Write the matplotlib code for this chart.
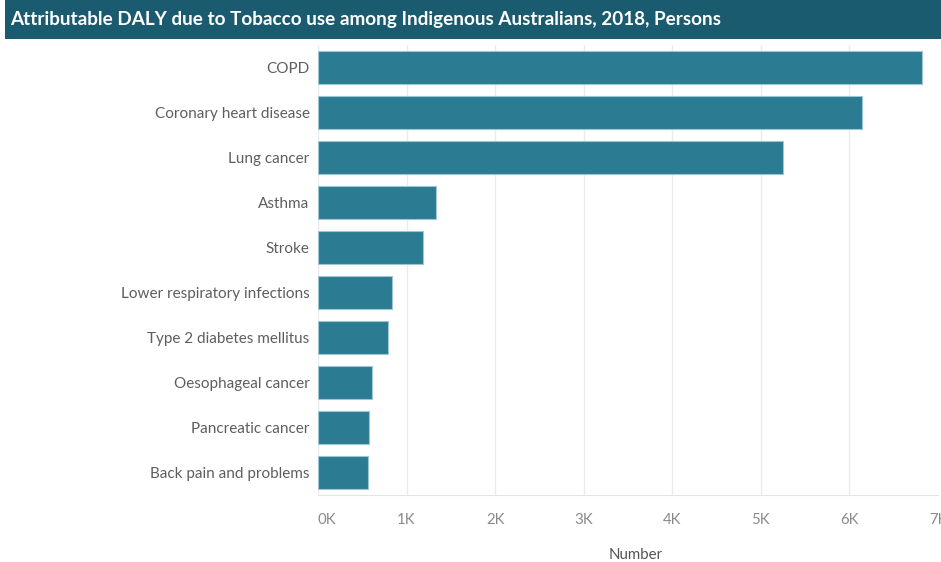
import matplotlib
matplotlib.use("Agg")
import matplotlib.pyplot as plt
from matplotlib.patches import Rectangle

# Attributable DALY by condition (persons)
conditions = [
    "COPD",
    "Coronary heart disease",
    "Lung cancer",
    "Asthma",
    "Stroke",
    "Lower respiratory infections",
    "Type 2 diabetes mellitus",
    "Oesophageal cancer",
    "Pancreatic cancer",
    "Back pain and problems",
]
daly = [6820, 6140, 5245, 1328, 1188, 830, 788, 607, 577, 566]

tick_values = [0, 1000, 2000, 3000, 4000, 5000, 6000, 7000]
tick_labels = ["0K", "1K", "2K", "3K", "4K", "5K", "6K", "7K"]

title = "Attributable DALY due to Tobacco use among Indigenous Australians, 2018, Persons"

plt.rcParams["font.family"] = ["Lato", "DejaVu Sans"]

W, H = 941, 562
fig = plt.figure(figsize=(W / 100, H / 100), dpi=100)
fig.patch.set_facecolor("white")

# Title banner
fig.patches.append(Rectangle((5 / W, 1 - 39 / H), 1, 39 / H, transform=fig.transFigure,
                             facecolor="#1b5b6f", edgecolor="none", zorder=0))
fig.text(10 / W, 1 - 19.5 / H, title, color="white", fontsize=13.6, fontweight="bold",
         va="center", ha="left")

ax = fig.add_axes([318 / W, 1 - 495 / H, 620 / W, 450 / H])
ypos = list(range(len(conditions)))
ax.barh(ypos, daly, height=0.75, color="#2b7b93", edgecolor="#9cc6d2", linewidth=0.8, zorder=3)

ax.set_xlim(0, 7000)
ax.set_ylim(len(conditions) - 0.5, -0.5)

ax.set_yticks(ypos)
ax.set_yticklabels(conditions, fontsize=11, color="#5e5e5e")
ax.set_xticks(tick_values)
ax.set_xticklabels(tick_labels, fontsize=10.8, color="#8a8a8a")
ax.get_xticklabels()[0].set_horizontalalignment("left")
ax.tick_params(axis="both", length=0)
ax.tick_params(axis="x", pad=13)
ax.tick_params(axis="y", pad=6)

ax.grid(axis="x", color="#ececec", linewidth=1, zorder=0)
for side in ["top", "right", "left"]:
    ax.spines[side].set_visible(False)
ax.spines["bottom"].set_color("#e4e4e4")
ax.set_facecolor("white")

fig.text(636 / W, 1 - 555 / H, "Number", fontsize=10.8, color="#555555", ha="center", va="center")

fig.savefig("out.png", dpi=100)
